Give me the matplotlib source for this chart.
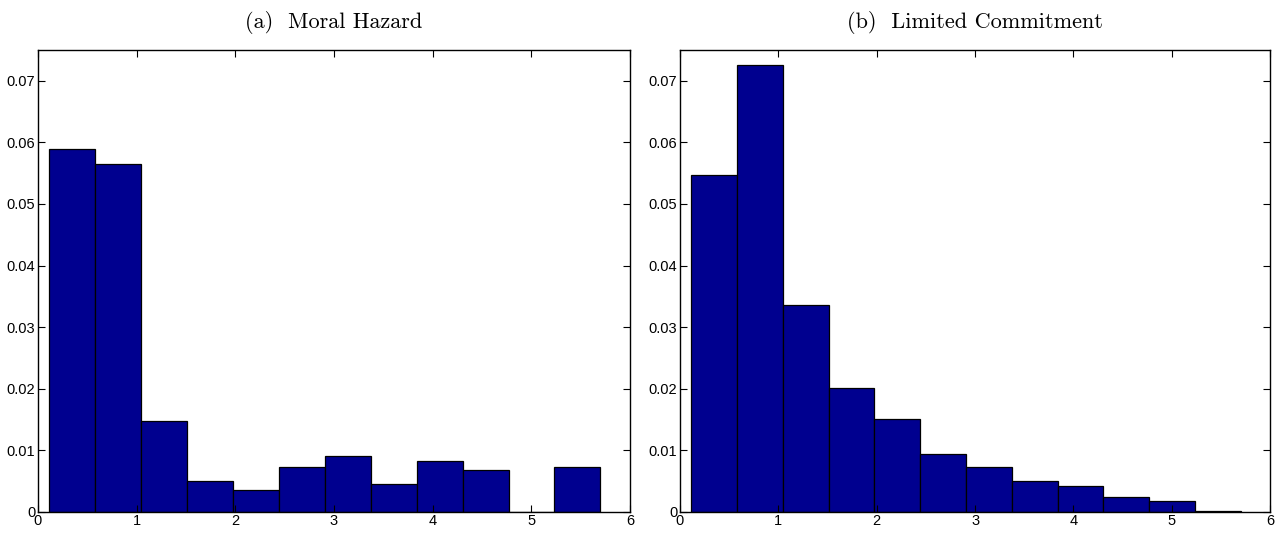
import numpy as np
import matplotlib.pyplot as plt

# bin edges shared by both histograms
edges = [0.115, 0.580, 1.046, 1.511, 1.977, 2.442, 2.907, 3.373, 3.838, 4.304, 4.769, 5.234, 5.700]

# bar heights
moral_hazard = [0.0589, 0.0565, 0.0148, 0.0050, 0.0036, 0.0073, 0.0090, 0.0045, 0.0082, 0.0068, 0.0, 0.0073]
limited_commit = [0.0547, 0.0725, 0.0336, 0.0201, 0.0151, 0.0094, 0.0072, 0.0050, 0.0041, 0.0024, 0.0018, 0.0001]

titles = ["(a)  Moral Hazard", "(b)  Limited Commitment"]
yticks = [0, 0.01, 0.02, 0.03, 0.04, 0.05, 0.06, 0.07]
ytick_labels = ["0", "0.01", "0.02", "0.03", "0.04", "0.05", "0.06", "0.07"]
xticks = [0, 1, 2, 3, 4, 5, 6]

plt.rcParams['font.family'] = ['Liberation Sans', 'DejaVu Sans']

fig = plt.figure(figsize=(12.83, 5.33), dpi=100)
ax1 = fig.add_axes([0.0296, 0.040, 0.4615, 0.866])
ax2 = fig.add_axes([0.5300, 0.040, 0.4600, 0.866])

for ax, heights, title in zip([ax1, ax2], [moral_hazard, limited_commit], titles):
    ax.hist(edges[:-1], bins=edges, weights=heights, color='#00008f',
            edgecolor='black', linewidth=0.9)
    ax.set_xlim(0, 6)
    ax.set_ylim(0, 0.075)
    ax.set_xticks(xticks)
    ax.set_yticks(yticks)
    ax.set_yticklabels(ytick_labels)
    ax.tick_params(direction='in', top=True, right=True, labelsize=10.5, length=5, pad=2)
    for s in ax.spines.values():
        s.set_linewidth(1.0)
    ax.set_title(title, family='cmr10', fontsize=16, pad=16)

fig.savefig('out.png', dpi=100)
